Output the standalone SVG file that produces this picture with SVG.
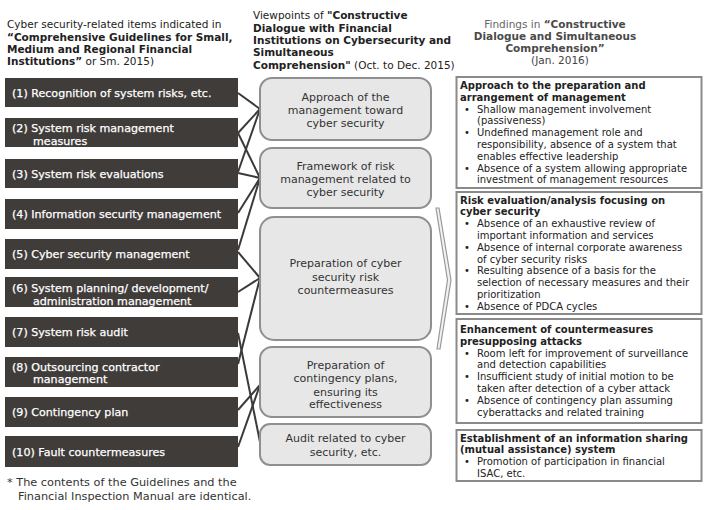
<svg xmlns="http://www.w3.org/2000/svg" width="710" height="510" viewBox="0 0 710 510">
<style>
text{font-family:"DejaVu Sans",Verdana,sans-serif;}
.hd{font-size:10.5px;fill:#222;}
.b{font-weight:bold;}
.rh{font-size:10.5px;fill:#666;}
.rhb{font-weight:bold;fill:#4a4a4a;}
.lb{fill:#403c3a;}
.lt{font-size:11.1px;fill:#fff;stroke:#fff;stroke-width:0.25;}
.mb{fill:#e7e7e7;stroke:#8f8f8f;stroke-width:2;}
.mt{font-size:11px;fill:#333;text-anchor:middle;}
.rb{fill:#fff;stroke:#8a8a8a;stroke-width:2;}
.rt{font-size:10px;fill:#222;}
.conn line{stroke:#3a3a3a;stroke-width:2;}
.ft{font-size:11.3px;fill:#333;}
</style>
<rect width="710" height="510" fill="#fff"/>

<g id="headers">
<text class="hd" x="7" y="28">Cyber security-related items indicated in</text>
<text class="hd b" x="7" y="40.5">“Comprehensive Guidelines for Small,</text>
<text class="hd b" x="7" y="53">Medium and Regional Financial</text>
<text class="hd" x="7" y="65.3"><tspan class="b">Institutions”</tspan> or Sm. 2015)</text>

<text class="hd" x="253" y="19">Viewpoints of <tspan class="b">"Constructive</tspan></text>
<text class="hd b" x="253" y="31.5">Dialogue with Financial</text>
<text class="hd b" x="253" y="44">Institutions on Cybersecurity and</text>
<text class="hd b" x="253" y="56.3">Simultaneous</text>
<text class="hd" x="253" y="68.5"><tspan class="b">Comprehension"</tspan> (Oct. to Dec. 2015)</text>

<text class="rh" x="555" y="27.5" text-anchor="middle">Findings in <tspan class="rhb">“Constructive</tspan></text>
<text class="rh rhb" x="555" y="39.5" text-anchor="middle">Dialogue and Simultaneous</text>
<text class="rh rhb" x="555" y="51.5" text-anchor="middle">Comprehension”</text>
<text class="rh" x="560" y="64" text-anchor="middle" style="fill:#444">(Jan. 2016)</text>
</g>

<g id="connectors" class="conn">
<line x1="238" y1="93" x2="260" y2="109"/>
<line x1="238" y1="133" x2="260" y2="109"/>
<line x1="238" y1="133" x2="260" y2="178"/>
<line x1="238" y1="172" x2="260" y2="109"/>
<line x1="238" y1="173" x2="260" y2="178"/>
<line x1="238" y1="213" x2="260" y2="178"/>
<line x1="238" y1="250" x2="260" y2="178"/>
<line x1="238" y1="252" x2="260" y2="278"/>
<line x1="238" y1="292" x2="260" y2="278"/>
<line x1="238" y1="333" x2="260" y2="442"/>
<line x1="238" y1="364" x2="260" y2="278"/>
<line x1="238" y1="410" x2="260" y2="385"/>
<line x1="238" y1="447" x2="260" y2="385"/>
</g>

<g id="left-1"><rect class="lb" x="5" y="78" width="233" height="29"/><text class="lt" x="12" y="96.5">(1) Recognition of system risks, etc.</text></g>
<g id="left-2"><rect class="lb" x="5" y="118" width="233" height="29"/><text class="lt" x="12" y="132">(2) System risk management</text><text class="lt" x="33" y="145">measures</text></g>
<g id="left-3"><rect class="lb" x="5" y="159" width="233" height="29"/><text class="lt" x="12" y="177.5">(3) System risk evaluations</text></g>
<g id="left-4"><rect class="lb" x="5" y="199" width="233" height="30"/><text class="lt" x="12" y="218">(4) Information security management</text></g>
<g id="left-5"><rect class="lb" x="5" y="239" width="233" height="30"/><text class="lt" x="12" y="258">(5) Cyber security management</text></g>
<g id="left-6"><rect class="lb" x="5" y="277" width="233" height="30"/><text class="lt" x="12" y="292">(6) System planning/ development/</text><text class="lt" x="33" y="304.5">administration management</text></g>
<g id="left-7"><rect class="lb" x="5" y="317" width="233" height="30"/><text class="lt" x="12" y="336">(7) System risk audit</text></g>
<g id="left-8"><rect class="lb" x="5" y="357" width="233" height="30"/><text class="lt" x="12" y="370.5">(8) Outsourcing contractor</text><text class="lt" x="33" y="383">management</text></g>
<g id="left-9"><rect class="lb" x="5" y="397" width="233" height="30"/><text class="lt" x="12" y="416">(9) Contingency plan</text></g>
<g id="left-10"><rect class="lb" x="5" y="436" width="233" height="31"/><text class="lt" x="12" y="455.5">(10) Fault countermeasures</text></g>

<g id="mid-A"><rect class="mb" x="260" y="78" width="171" height="62" rx="12"/>
<text class="mt" x="345.5" y="100.5">Approach of the</text><text class="mt" x="345.5" y="114">management toward</text><text class="mt" x="345.5" y="127">cyber security</text></g>
<g id="mid-B"><rect class="mb" x="260" y="148" width="171" height="60" rx="12"/>
<text class="mt" x="345.5" y="169.5">Framework of risk</text><text class="mt" x="345.5" y="183">management related to</text><text class="mt" x="345.5" y="195.5">cyber security</text></g>
<g id="mid-C"><rect class="mb" x="260" y="217" width="171" height="123" rx="14"/>
<text class="mt" x="345.5" y="267">Preparation of cyber</text><text class="mt" x="345.5" y="281">security risk</text><text class="mt" x="345.5" y="294">countermeasures</text></g>
<g id="mid-D"><rect class="mb" x="260" y="347" width="171" height="70" rx="12"/>
<text class="mt" x="345.5" y="369">Preparation of</text><text class="mt" x="345.5" y="382">contingency plans,</text><text class="mt" x="345.5" y="395.5">ensuring its</text><text class="mt" x="345.5" y="408">effectiveness</text></g>
<g id="mid-E"><rect class="mb" x="260" y="424" width="171" height="41" rx="10"/>
<text class="mt" x="345.5" y="442">Audit related to cyber</text><text class="mt" x="345.5" y="455.5">security, etc.</text></g>

<g id="wedge"><polygon points="436,208 439,208 451,280 440,349 437,349 447.5,280" fill="#f2f2f2" stroke="#999" stroke-width="1.2"/></g>

<g id="right-1"><rect class="rb" x="456.5" y="77" width="245" height="111"/>
<text class="rt b" x="460" y="89">Approach to the preparation and</text>
<text class="rt b" x="460" y="100.8">arrangement of management</text>
<text class="rt" x="464" y="112.6">•</text><text class="rt" x="477" y="112.6">Shallow management involvement</text>
<text class="rt" x="477" y="124.4">(passiveness)</text>
<text class="rt" x="464" y="136.2">•</text><text class="rt" x="477" y="136.2">Undefined management role and</text>
<text class="rt" x="477" y="148">responsibility, absence of a system that</text>
<text class="rt" x="477" y="159.8">enables effective leadership</text>
<text class="rt" x="464" y="171.6">•</text><text class="rt" x="477" y="171.6">Absence of a system allowing appropriate</text>
<text class="rt" x="477" y="183.4">investment of management resources</text>
</g>
<g id="right-2"><rect class="rb" x="456.5" y="192" width="245" height="122"/>
<text class="rt b" x="460" y="203.5">Risk evaluation/analysis focusing on</text>
<text class="rt b" x="460" y="215.3">cyber security</text>
<text class="rt" x="464" y="227.1">•</text><text class="rt" x="477" y="227.1">Absence of an exhaustive review of</text>
<text class="rt" x="477" y="238.9">important information and services</text>
<text class="rt" x="464" y="250.7">•</text><text class="rt" x="477" y="250.7">Absence of internal corporate awareness</text>
<text class="rt" x="477" y="262.5">of cyber security risks</text>
<text class="rt" x="464" y="274.3">•</text><text class="rt" x="477" y="274.3">Resulting absence of a basis for the</text>
<text class="rt" x="477" y="286.1">selection of necessary measures and their</text>
<text class="rt" x="477" y="297.9">prioritization</text>
<text class="rt" x="464" y="309.7">•</text><text class="rt" x="477" y="309.7">Absence of PDCA cycles</text>
</g>
<g id="right-3"><rect class="rb" x="456.5" y="319" width="245" height="104"/>
<text class="rt b" x="460" y="333">Enhancement of countermeasures</text>
<text class="rt b" x="460" y="344.8">presupposing attacks</text>
<text class="rt" x="464" y="356.6">•</text><text class="rt" x="477" y="356.6">Room left for improvement of surveillance</text>
<text class="rt" x="477" y="368.4">and detection capabilities</text>
<text class="rt" x="464" y="380.2">•</text><text class="rt" x="477" y="380.2">Insufficient study of initial motion to be</text>
<text class="rt" x="477" y="392">taken after detection of a cyber attack</text>
<text class="rt" x="464" y="403.8">•</text><text class="rt" x="477" y="403.8">Absence of contingency plan assuming</text>
<text class="rt" x="477" y="415.6">cyberattacks and related training</text>
</g>
<g id="right-4"><rect class="rb" x="456.5" y="430" width="245" height="51"/>
<text class="rt b" x="460" y="441.5">Establishment of an information sharing</text>
<text class="rt b" x="460" y="453.3">(mutual assistance) system</text>
<text class="rt" x="464" y="465.1">•</text><text class="rt" x="477" y="465.1">Promotion of participation in financial</text>
<text class="rt" x="477" y="476.9">ISAC, etc.</text>
</g>

<g id="footnote">
<text class="ft" x="7" y="486">* The contents of the Guidelines and the</text>
<text class="ft" x="18" y="500">Financial Inspection Manual are identical.</text>
</g>
</svg>
